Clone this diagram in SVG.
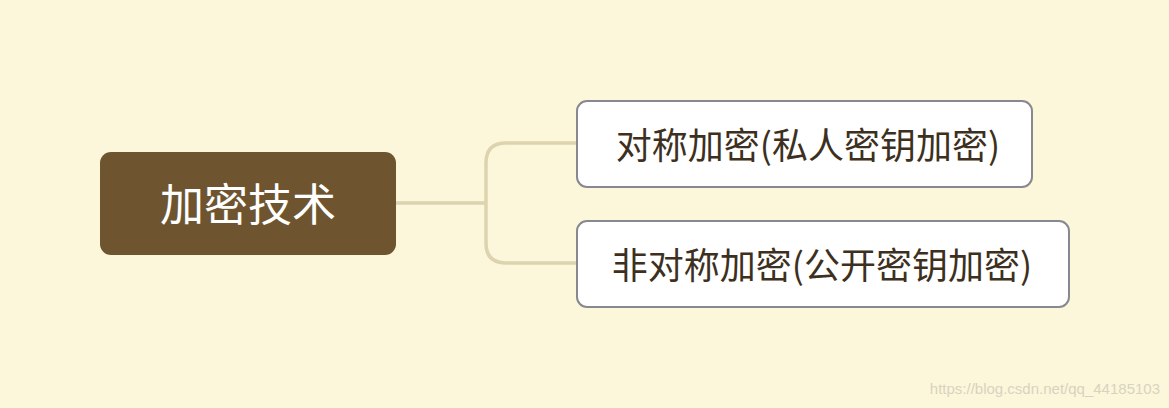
<svg xmlns="http://www.w3.org/2000/svg" width="1169" height="408" viewBox="0 0 1169 408">
<style>
.t{font-family:"Noto Sans CJK SC","Noto Sans",sans-serif;text-anchor:middle;dominant-baseline:central}
.c{fill:#fff;stroke:#888890;stroke-width:2}
.ct{fill:#3d3020;font-size:36px}
</style>
<rect width="1169" height="408" fill="#FCF7DA"/>
<g id="connectors" fill="none" stroke="#DDD3AE" stroke-width="3.5">
<path d="M396 203H486"/>
<path d="M577 143H506Q486 143 486 163V243Q486 263 506 263H577"/>
</g>
<g id="root"><rect x="100" y="152" width="296" height="103" rx="11" fill="#6E5530"/>
<text class="t" x="248" y="202" font-size="44" fill="#fff">加密技术</text></g>
<g id="n1"><rect class="c" x="577" y="101" width="455" height="86" rx="10"/>
<text class="t ct" x="808" y="143">对称加密(私人密钥加密)</text></g>
<g id="n2"><rect class="c" x="577" y="221" width="492" height="86" rx="10"/>
<text class="t ct" x="822" y="263">非对称加密(公开密钥加密)</text></g>
<text x="1160" y="394" font-family="Liberation Sans,sans-serif" font-size="15" fill="#d8d3c0" text-anchor="end">https://blog.csdn.net/qq_44185103</text>
</svg>
